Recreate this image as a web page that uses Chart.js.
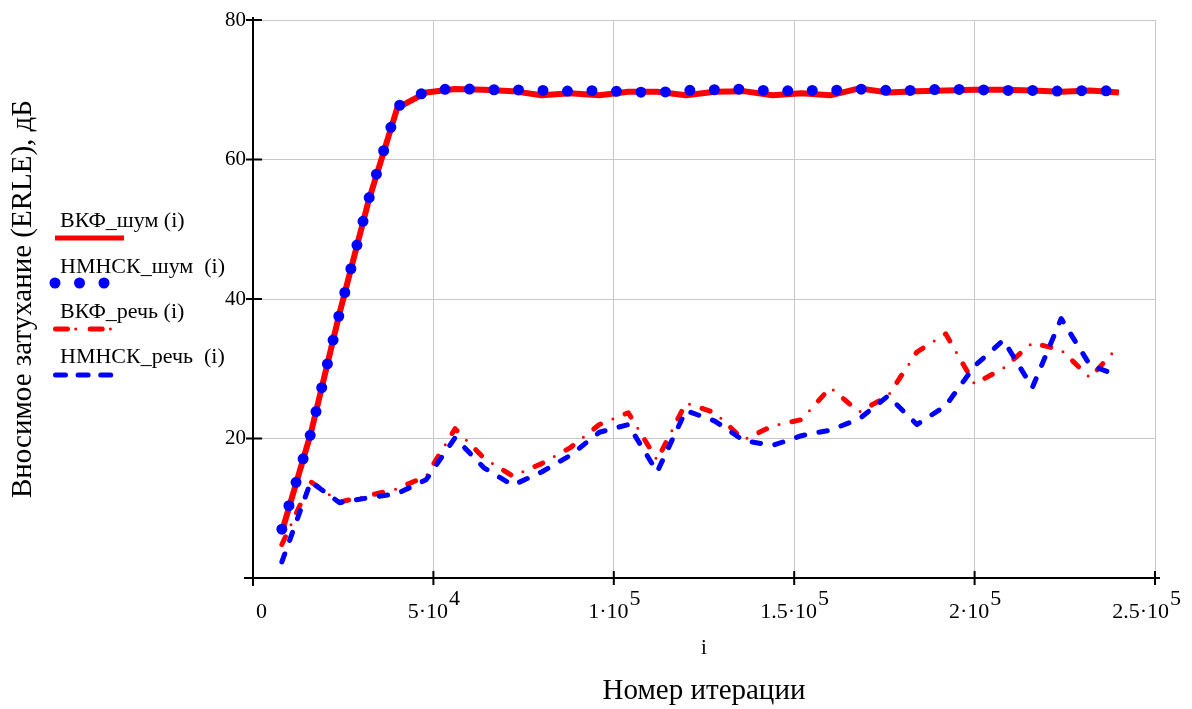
<!DOCTYPE html>
<html>
<head>
<meta charset="utf-8">
<title>ERLE</title>
<script src="https://cdn.jsdelivr.net/npm/chart.js@4.4.1/dist/chart.umd.min.js"></script>
<style>
  html, body { margin: 0; padding: 0; background: #fff; }
  #wrap { position: relative; width: 1192px; height: 709px; }
</style>
</head>
<body>
<div id="wrap"><canvas id="erleChart"></canvas></div>
<script>
const iterations = [8000, 16000, 24000, 32000, 40000, 48000, 56000, 64000, 72000, 80000,
    88000, 96000, 104000, 112000, 120000, 128000, 136000, 144000, 152000, 160000,
    168000, 176000, 184000, 192000, 200000, 208000, 216000, 224000, 232000, 240000];

const vkfNoise = [6.6, 20.7, 38.0, 54.0, 67.4, 69.6, 70.1, 70.0, 69.8, 69.2,
    69.5, 69.2, 69.7, 69.7, 69.2, 69.7, 69.8, 69.2, 69.5, 69.2,
    70.2, 69.6, 69.8, 69.9, 70.0, 70.0, 69.9, 69.7, 69.9, 69.6];
const nmnskNoise = [7.0, 20.7, 38.0, 54.2, 67.6, 69.8, 70.2, 70.0, 70.0, 69.9,
    69.8, 69.9, 69.7, 69.6, 69.9, 70.0, 70.1, 69.8, 69.9, 69.9,
    70.1, 69.9, 69.9, 70.1, 70.0, 69.9, 69.9, 69.8, 69.9, 69.8];
const vkfSpeech = [4.8, 13.8, 10.9, 11.8, 12.8, 14.6, 21.4, 17.2, 14.6, 16.4,
    18.7, 22.0, 23.7, 16.9, 25.1, 23.7, 19.8, 21.8, 22.7, 27.3,
    23.8, 26.1, 32.4, 35.0, 27.8, 30.1, 33.7, 32.7, 28.7, 33.3];
const nmnskSpeech = [2.3, 13.8, 10.8, 11.5, 12.1, 14.1, 20.1, 15.8, 13.3, 15.2,
    17.6, 20.9, 22.0, 15.2, 24.0, 22.5, 19.7, 19.0, 20.4, 21.2,
    22.8, 26.1, 22.0, 24.7, 30.4, 34.1, 27.3, 37.2, 30.5, 29.0];

const seriesLabels = ['ВКФ_шум (i)', 'НМНСК_шум  (i)', 'ВКФ_речь (i)', 'НМНСК_речь  (i)'];
// x tick labels as [mantissa, exponent], Mathcad writes 5·10^4
const xTickLabels = [['0', ''], ['5·10', '4'], ['1·10', '5'], ['1.5·10', '5'], ['2·10', '5'], ['2.5·10', '5']];
const yTitle = 'Вносимое затухание (ERLE), дБ';
const xTitle = 'i';
const bottomTitle = 'Номер итерации';

const FONT = "'Liberation Serif', 'Times New Roman', serif";

function points(ys) {
    return iterations.map((x, i) => ({x: x, y: ys[i]}));
}

// line looks, reused by the hand drawn legend
const looks = {
    vkfNoise:    {color: '#ff0000', width: 6, dash: [], cap: 'butt'},
    nmnskNoise:  {color: '#0000ff', width: 11, dash: [0, 24.5], cap: 'round'},
    vkfDash:     {color: '#ff0000', width: 5, dash: [8.5, 26.5], cap: 'round'},
    vkfDot:      {color: '#ff0000', width: 3, dash: [0, 35], cap: 'round', offset: 13.25},
    nmnskSpeech: {color: '#0000ff', width: 5, dash: [8.5, 14.5], cap: 'round'},
};

function ds(label, ys, look, order) {
    return {
        label: label,
        data: points(ys),
        borderColor: look.color,
        borderWidth: look.width,
        borderDash: look.dash,
        borderDashOffset: look.offset || 0,
        borderCapStyle: look.cap,
        borderJoinStyle: 'round',
        pointRadius: 0,
        tension: 0,
        fill: false,
        order: order,
    };
}

const legendRows = [
    {text: seriesLabels[0], ty: 221, ly: 238, x0: 55, x1: 124, looks: [{...looks.vkfNoise, width: 5}]},
    {text: seriesLabels[1], ty: 267, ly: 283, x0: 55, x1: 110, looks: [{...looks.nmnskNoise, width: 11, dash: [0, 24.5]}]},
    {text: seriesLabels[2], ty: 312, ly: 329, x0: 55.5, x1: 112, looks: [
        {...looks.vkfDash, dash: [12, 22.7]},
        {...looks.vkfDot, dash: [0, 34.7], offset: 34.7 - 20.2}]},
    {text: seriesLabels[3], ty: 357, ly: 375, x0: 55.5, x1: 112, looks: [{...looks.nmnskSpeech, dash: [10, 12.6]}]},
];

const mathcadAxes = {
    id: 'mathcadAxes',
    afterDraw(chart) {
        const {ctx, chartArea: a, scales: {x, y}} = chart;
        ctx.save();
        ctx.strokeStyle = '#000';
        ctx.lineWidth = 2;
        ctx.setLineDash([]);
        ctx.beginPath();
        ctx.moveTo(a.left - 9, a.bottom);
        ctx.lineTo(a.right + 5, a.bottom);
        ctx.moveTo(a.left, a.top - 3);
        ctx.lineTo(a.left, a.bottom + 8);
        x.ticks.forEach(t => {
            const px = x.getPixelForValue(t.value);
            ctx.moveTo(px, a.bottom - 7);
            ctx.lineTo(px, a.bottom + 7);
        });
        y.ticks.forEach(t => {
            if (t.value === 0) return;
            const py = y.getPixelForValue(t.value);
            ctx.moveTo(a.left - 7, py);
            ctx.lineTo(a.left + 9, py);
        });
        ctx.stroke();

        // x tick labels with raised exponent
        ctx.font = `22px ${FONT}`;
        ctx.fillStyle = '#000';
        ctx.textBaseline = 'alphabetic';
        ctx.textAlign = 'left';
        x.ticks.forEach((t, i) => {
            const [mant, exp] = xTickLabels[i] || [String(t.value), ''];
            const px = x.getPixelForValue(t.value);
            const mw = ctx.measureText(mant).width;
            const ew = exp ? ctx.measureText(exp).width : 0;
            let left = i === 0 ? px + 3 : px - (mw + ew) / 2;
            left = Math.min(left, chart.width - 12 - mw - ew);
            ctx.fillText(mant, left, 618);
            if (exp) ctx.fillText(exp, left + mw + 1, 605);
        });

        // legend on the left, Mathcad style
        ctx.font = `22px ${FONT}`;
        ctx.textBaseline = 'middle';
        for (let row of legendRows) {
            ctx.fillStyle = '#000';
            ctx.fillText(row.text, 60, row.ty);
            for (let lk of row.looks) {
                ctx.beginPath();
                ctx.strokeStyle = lk.color;
                ctx.lineWidth = lk.width;
                ctx.lineCap = lk.cap;
                ctx.setLineDash(lk.dash);
                ctx.lineDashOffset = lk.offset || 0;
                ctx.moveTo(row.x0, row.ly);
                ctx.lineTo(row.x1, row.ly);
                ctx.stroke();
            }
        }
        ctx.restore();
    }
};

const ctx = document.getElementById('erleChart').getContext('2d');
let chart = new Chart(ctx, {
    type: 'line',
    data: {
        datasets: [
            ds(seriesLabels[0], vkfNoise, looks.vkfNoise, 5),
            ds(seriesLabels[1], nmnskNoise, looks.nmnskNoise, 4),
            ds(seriesLabels[2], vkfSpeech, looks.vkfDash, 3),
            ds(seriesLabels[2], vkfSpeech, looks.vkfDot, 2),
            ds(seriesLabels[3], nmnskSpeech, looks.nmnskSpeech, 1),
        ],
    },
    options: {
        responsive: true,
        maintainAspectRatio: false,
        animation: false,
        layout: {padding: {top: 20, right: 37, left: 0, bottom: 0}},
        plugins: {
            legend: {display: false},
            tooltip: {enabled: false},
            title: {
                display: true,
                text: bottomTitle,
                position: 'bottom',
                fullSize: false,
                color: '#000',
                font: {family: FONT, size: 29, weight: 'normal', lineHeight: 1.2},
                padding: {top: 0, bottom: 0},
            },
        },
        scales: {
            x: {
                type: 'linear',
                min: 0,
                max: 250000,
                afterFit: s => { s.height = 96.2; },
                border: {display: false},
                grid: {color: 'rgb(200,200,200)', lineWidth: 1, drawTicks: false},
                ticks: {
                    stepSize: 50000,
                    display: false,
                },
                title: {
                    display: true,
                    text: xTitle,
                    color: '#000',
                    font: {family: FONT, size: 21, lineHeight: 1.2},
                    padding: {top: 0, bottom: 13.6},
                },
            },
            y: {
                min: 0,
                max: 80,
                afterFit: s => { s.width = 253; },
                border: {display: false},
                grid: {color: 'rgb(200,200,200)', lineWidth: 1, drawTicks: false},
                ticks: {
                    stepSize: 20,
                    padding: 7,
                    color: '#000',
                    font: {family: FONT, size: 21},
                    callback: v => v === 0 ? '' : v,
                },
                title: {
                    display: true,
                    text: yTitle,
                    color: '#000',
                    font: {family: FONT, size: 29, lineHeight: 1.2},
                    padding: {top: 6, bottom: 0},
                },
            },
        },
    },
    plugins: [mathcadAxes],
});
</script>
</body>
</html>
